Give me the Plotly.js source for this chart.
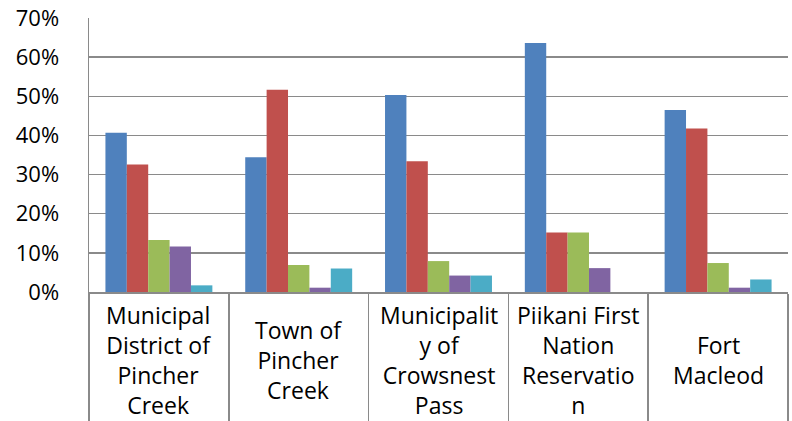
<!DOCTYPE html>
<html>
<head>
<meta charset="utf-8">
<script src="https://cdn.plot.ly/plotly-3.0.1.min.js"></script>
<style>html,body{margin:0;padding:0;background:#fff;}#chart{width:792px;height:421px;}</style>
</head>
<body>
<div id="chart"></div>
<script>
const categories = ["MD Pincher Creek", "Town of Pincher Creek", "Crowsnest Pass", "Piikani First Nation", "Fort Macleod"];
const categoryLabels = [
  "Municipal<br>District of<br>Pincher<br>Creek",
  "Town of<br>Pincher<br>Creek",
  "Municipalit<br>y of<br>Crowsnest<br>Pass",
  "Piikani First<br>Nation<br>Reservatio<br>n",
  "Fort<br>Macleod"
];
const series1 = [0.407, 0.344, 0.503, 0.636, 0.465];
const series2 = [0.326, 0.517, 0.334, 0.152, 0.418];
const series3 = [0.133, 0.069, 0.079, 0.152, 0.074];
const series4 = [0.116, 0.011, 0.042, 0.061, 0.011];
const series5 = [0.017, 0.060, 0.042, 0.000, 0.032];
const seriesNames = ["Series 1", "Series 2", "Series 3", "Series 4", "Series 5"];
const seriesColors = ["#4F81BD", "#C0504D", "#9BBB59", "#8064A2", "#4BACC6"];
const allSeries = [series1, series2, series3, series4, series5];

const traces = allSeries.map((vals, i) => ({
  type: "bar",
  name: seriesNames[i],
  x: categories,
  y: vals,
  marker: {color: seriesColors[i], line: {width: 0}},
  hoverinfo: "x+y"
}));

const gridColor = "#8a8a8a";
const layout = {
  width: 792, height: 421,
  margin: {l: 89, r: 4, t: 18, b: 129, pad: 0},
  paper_bgcolor: "#ffffff", plot_bgcolor: "#ffffff",
  barmode: "group", bargap: 0.235, bargroupgap: 0,
  showlegend: false,
  font: {family: "Open Sans, sans-serif", color: "#000000", size: 22},
  xaxis: {
    type: "category",
    range: [-0.5, 4.5],
    showgrid: false, zeroline: false,
    showline: true, linecolor: gridColor, linewidth: 1.5,
    tickson: "boundaries", ticks: "outside", ticklen: 132,
    tickcolor: gridColor, tickwidth: 1.5,
    showticklabels: false
  },
  yaxis: {
    range: [0, 0.7], dtick: 0.1, tickformat: ".0%",
    showgrid: true, gridcolor: gridColor, gridwidth: 1.5,
    zeroline: false,
    showline: true, linecolor: gridColor, linewidth: 1.5,
    ticks: "", ticklabelstandoff: 24,
    tickfont: {family: "Open Sans, sans-serif", size: 22, color: "#000000"}
  },
  annotations: categories.map((c, i) => ({
    x: c, xref: "x", y: 0, yref: "paper",
    yshift: -68, yanchor: "middle", xanchor: "center",
    text: categoryLabels[i], showarrow: false, align: "center",
    font: {family: "Open Sans, sans-serif", size: 23, color: "#000000"}
  }))
};

Plotly.newPlot("chart", traces, layout, {displayModeBar: false, staticPlot: true});
</script>
</body>
</html>
